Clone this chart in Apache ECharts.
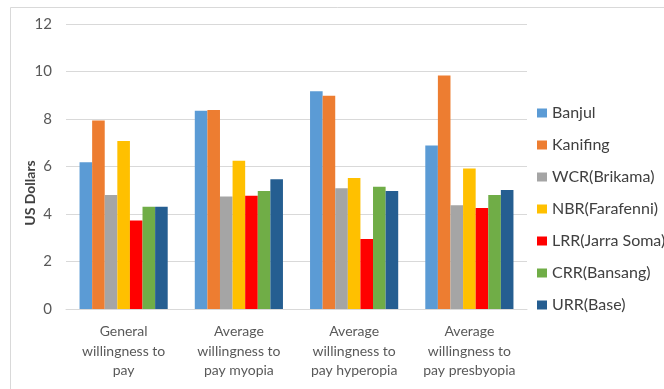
<!DOCTYPE html>
<html>
<head>
<meta charset="utf-8">
<script src="https://cdn.jsdelivr.net/npm/echarts@6/dist/echarts.min.js"></script>
<style>
html,body{margin:0;padding:0;background:#fff;}
#chart{width:664px;height:389px;}
</style>
</head>
<body>
<div id="chart"></div>
<script>
const categories = [
  "General\nwillingness to\npay",
  "Average\nwillingness to\npay myopia",
  "Average\nwillingness to\npay hyperopia",
  "Average\nwillingness to\npay presbyopia"
];
const seriesNames = ["Banjul", "Kanifing", "WCR(Brikama)", "NBR(Farafenni)", "LRR(Jarra Soma)", "CRR(Bansang)", "URR(Base)"];
const banjul   = [6.18, 8.35, 9.17, 6.88];
const kanifing = [7.94, 8.38, 8.98, 9.83];
const wcr      = [4.8, 4.74, 5.08, 4.37];
const nbr      = [7.07, 6.24, 5.52, 5.92];
const lrr      = [3.73, 4.77, 2.95, 4.25];
const crr      = [4.31, 4.97, 5.15, 4.8];
const urr      = [4.31, 5.46, 4.97, 5.01];
const yTicks = [0, 2, 4, 6, 8, 10, 12];

const colors = ["#5B9BD5", "#ED7D31", "#A5A5A5", "#FFC000", "#FF0000", "#70AD47", "#255E91"];
const values = [banjul, kanifing, wcr, nbr, lrr, crr, urr];
const font = "Lato, 'Open Sans', sans-serif";

const chart = echarts.init(document.getElementById('chart'), null, {renderer: 'canvas'});
chart.setOption({
  animation: false,
  backgroundColor: '#fff',
  color: colors,
  graphic: [
    {type: 'rect', shape: {x: 10.5, y: 7.5, width: 720, height: 420},
     style: {fill: 'none', stroke: '#d9d9d9', lineWidth: 1}, silent: true, z: -10},
    {type: 'text', x: 30, y: 193, rotation: Math.PI / 2,
     style: {text: 'US Dollars', font: "bold 14px " + font, fill: '#404040',
             textAlign: 'center', textVerticalAlign: 'middle'}}
  ],
  grid: {left: 66, right: 137, top: 24, bottom: 80, containLabel: false},
  legend: {
    orient: 'vertical', left: 537, top: 105, padding: 0,
    itemWidth: 10, itemHeight: 9, itemGap: 16, itemStyle: {borderWidth: 0},
    icon: 'rect',
    textStyle: {fontFamily: font, fontSize: 16, color: '#404040', lineHeight: 16},
    data: seriesNames
  },
  xAxis: {
    type: 'category', data: categories,
    axisLine: {lineStyle: {color: '#d9d9d9'}},
    axisTick: {show: false},
    axisLabel: {fontFamily: font, fontSize: 14, color: '#595959', lineHeight: 19.5, margin: 13, interval: 0}
  },
  yAxis: {
    type: 'value', min: yTicks[0], max: yTicks[yTicks.length - 1], interval: 2,
    axisLine: {show: false}, axisTick: {show: false},
    axisLabel: {fontFamily: font, fontSize: 15, color: '#595959', margin: 14},
    splitLine: {lineStyle: {color: '#d9d9d9'}}
  },
  series: seriesNames.map((n, i) => ({
    name: n, type: 'bar', data: values[i],
    barGap: '0%', barCategoryGap: '23.5%'
  }))
});
</script>
</body>
</html>
